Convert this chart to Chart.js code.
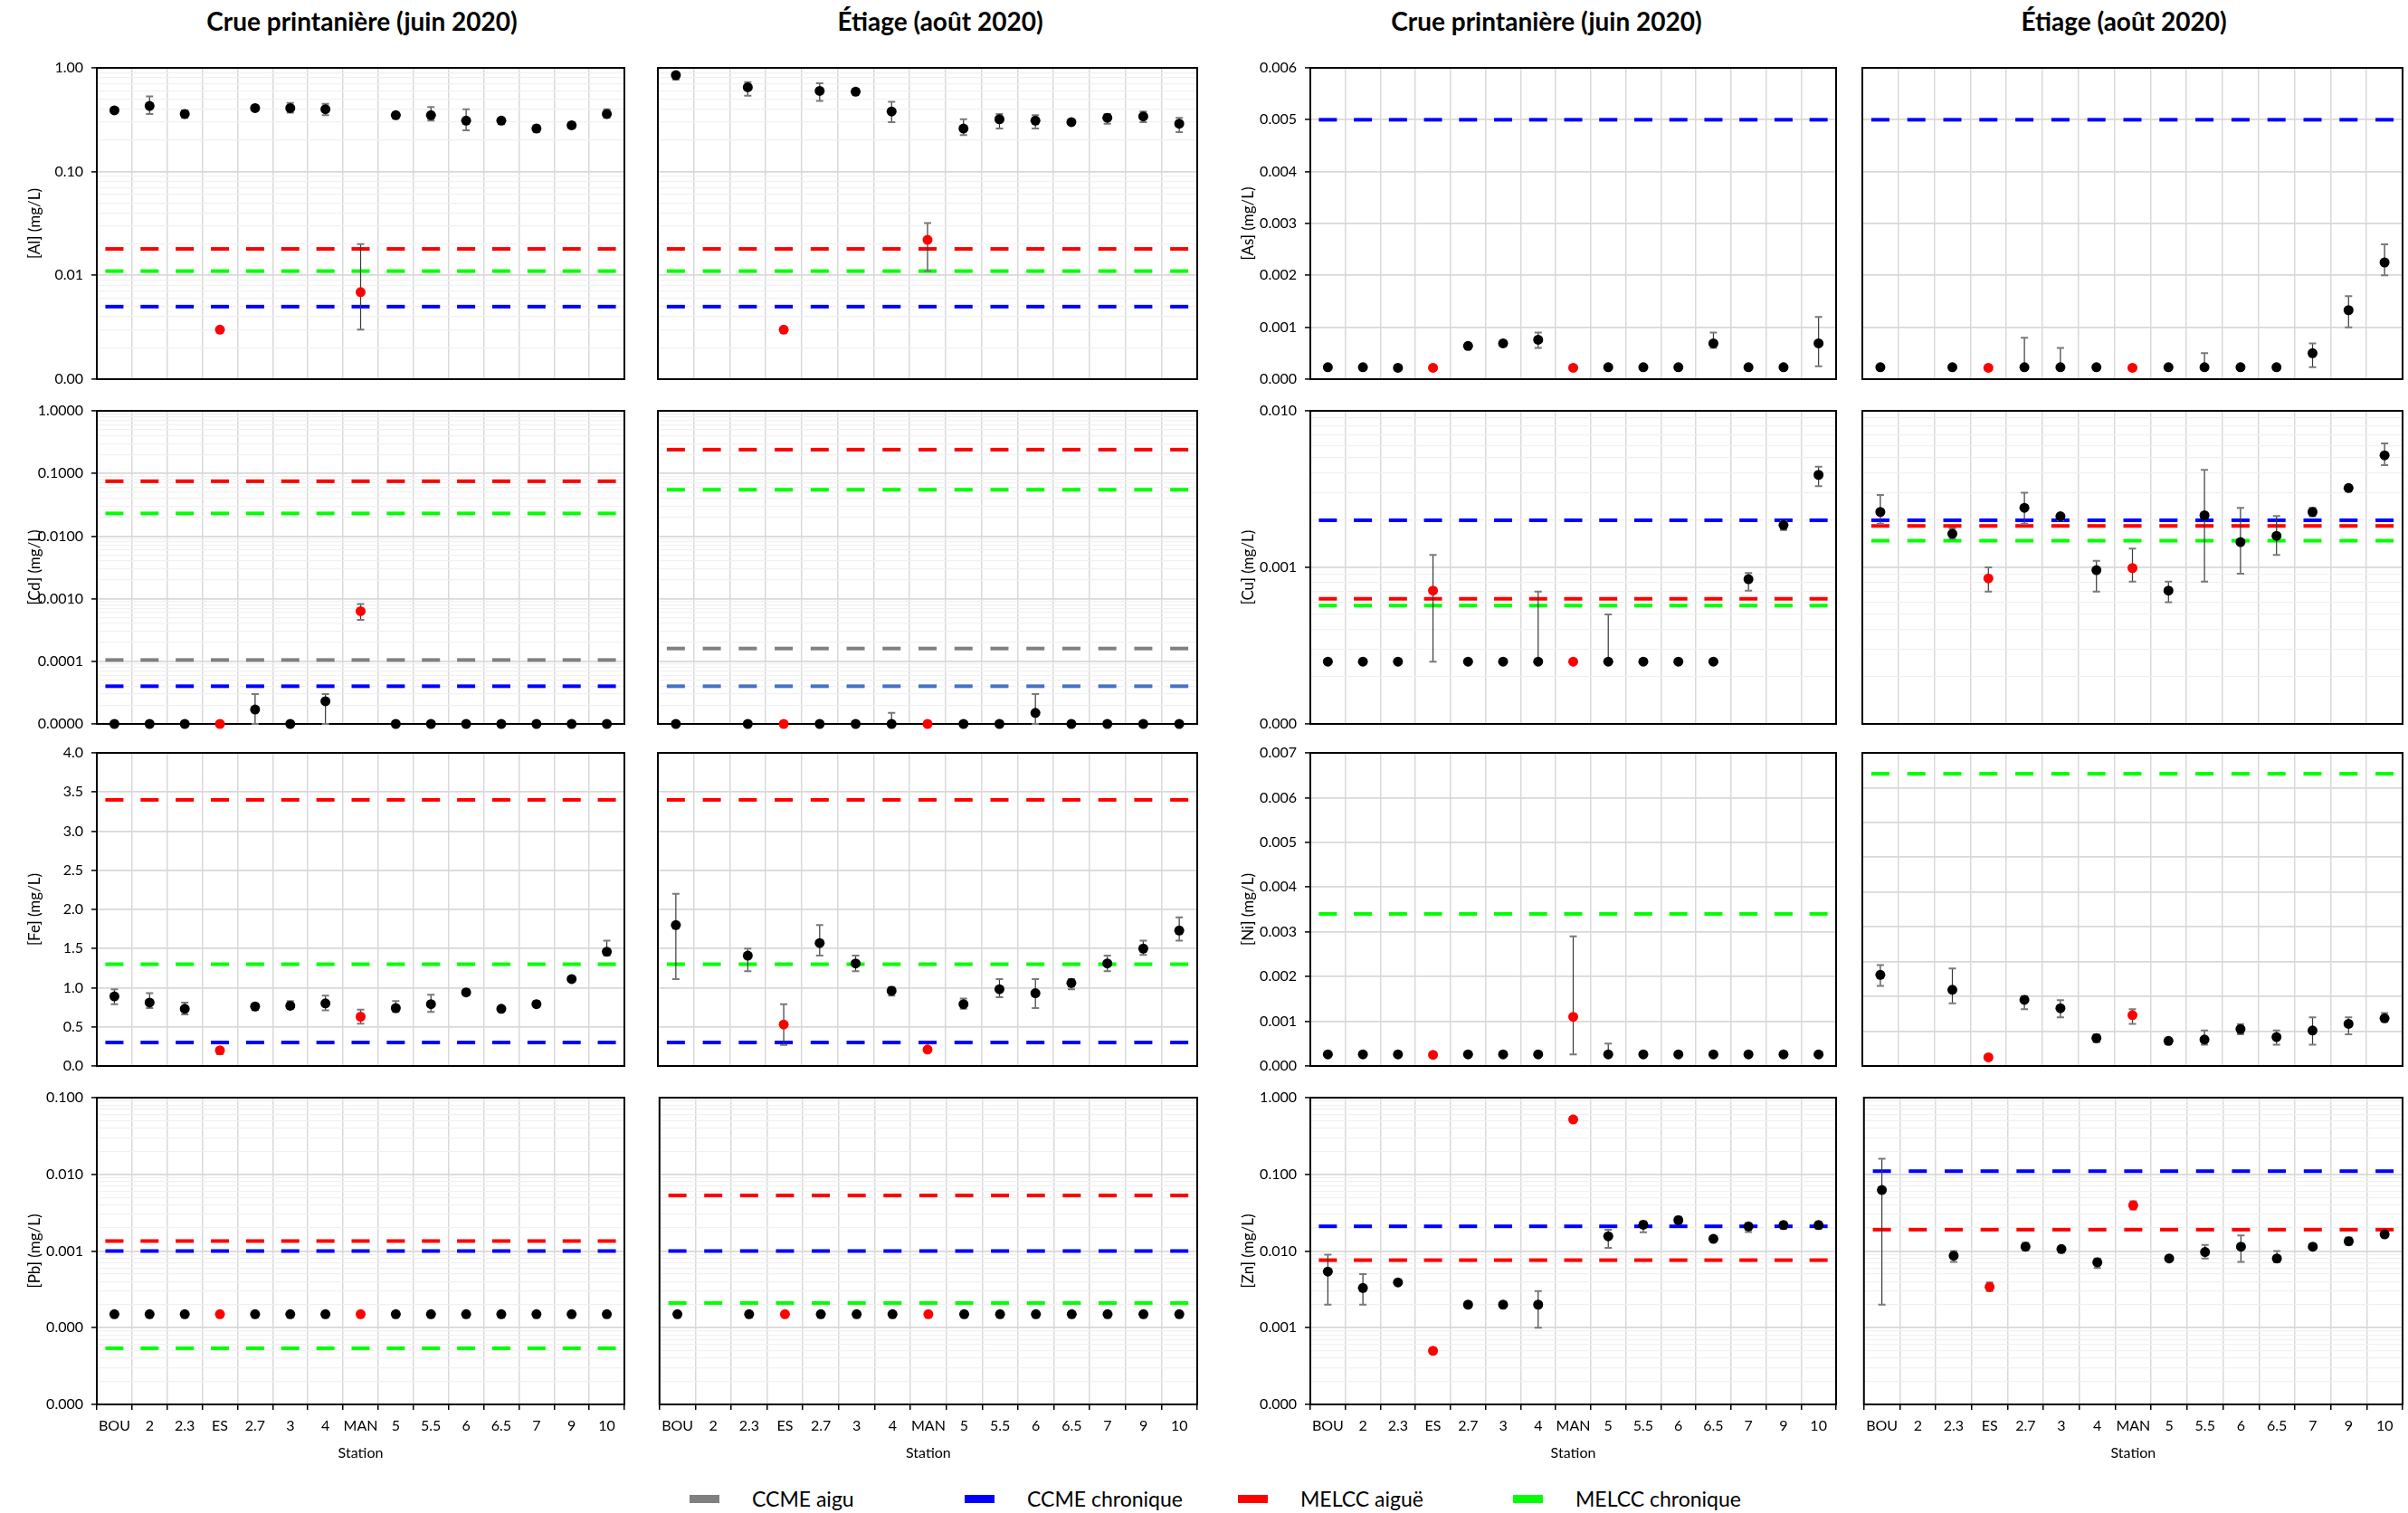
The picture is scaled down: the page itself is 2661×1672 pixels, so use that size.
<!DOCTYPE html>
<html lang="fr">
<head>
<meta charset="utf-8">
<title>Métaux – crue et étiage 2020</title>
<script src="https://cdn.jsdelivr.net/npm/chart.js@4.4.1/dist/chart.umd.min.js"></script>
<style>
html,body{margin:0;padding:0;background:#fff}
body{position:relative;width:2661px;height:1672px;overflow:hidden;font-family:Lato,'Liberation Sans',sans-serif;color:#000}
canvas{position:absolute}
.ttl{position:absolute;top:6px;font-weight:700;font-size:28px;line-height:34px;white-space:nowrap;transform:translateX(-50%)}
.sw{position:absolute;width:33px;height:9px;top:1652px}
.lt{position:absolute;top:1641px;font-size:23px;line-height:30px;white-space:nowrap}
</style>
</head>
<body>
<script>
// ---------------- DATA ----------------
const stations = ['BOU','2','2.3','ES','2.7','3','4','MAN','5','5.5','6','6.5','7','9','10'];
const tributaries = ['ES','MAN'];
const periodTitles = ['Crue printanière (juin 2020)', 'Étiage (août 2020)'];
const limitNames = ['CCME aigu', 'CCME chronique', 'MELCC aiguë', 'MELCC chronique'];
const stationAxisTitle = 'Station';

// Aluminium
const alCrue = [0.39, 0.43, 0.36, 0.003, 0.41, 0.41, 0.40, 0.0069, 0.35, 0.35, 0.31, 0.31, 0.26, 0.28, 0.36];
const alCrueBar = [[0.37,0.41],[0.36,0.53],[0.33,0.39],null,[0.39,0.43],[0.37,0.46],[0.35,0.45],[0.003,0.02],[0.33,0.37],[0.31,0.42],[0.25,0.40],[0.29,0.33],[0.24,0.28],[0.26,0.30],[0.33,0.40]];
const alEtiage = [0.85, null, 0.65, 0.003, 0.60, 0.59, 0.38, 0.022, 0.26, 0.32, 0.31, 0.30, 0.33, 0.34, 0.29];
const alEtiageBar = [[0.77,0.90],null,[0.54,0.73],null,[0.48,0.71],[0.56,0.63],[0.30,0.47],[0.011,0.032],[0.225,0.32],[0.26,0.36],[0.26,0.35],[0.29,0.31],[0.29,0.36],[0.30,0.38],[0.24,0.33]];
const alLimits = [null, 0.005, 0.018, 0.011];

// Arsenic
const asCrue = [0.00023,0.00023,0.00022,0.00022,0.00064,0.00069,0.00076,0.00022,0.00023,0.00023,0.00023,0.00069,0.00023,0.00023,0.00069];
const asCrueBar = [null,null,null,null,null,null,[0.0006,0.0009],null,null,null,null,[0.0006,0.0009],null,null,[0.00025,0.0012]];
const asEtiage = [0.00023,null,0.00023,0.00022,0.00023,0.00023,0.00023,0.00022,0.00023,0.00023,0.00023,0.00023,0.0005,0.00133,0.00225];
const asEtiageBar = [null,null,null,null,[0.00023,0.0008],[0.00023,0.0006],null,null,null,[0.00023,0.0005],null,null,[0.00023,0.00069],[0.001,0.0016],[0.002,0.0026]];
const asLimits = [null, 0.005, null, null];

// Cadmium
const cdCrue = [1e-5,1e-5,1e-5,1e-5,1.7e-5,1e-5,2.3e-5,0.00063,1e-5,1e-5,1e-5,1e-5,1e-5,1e-5,1e-5];
const cdCrueBar = [null,null,null,null,[1e-5,3e-5],null,[1e-5,3e-5],[0.00046,0.00082],null,null,null,null,null,null,null];
const cdEtiage = [1e-5,null,1e-5,1e-5,1e-5,1e-5,1e-5,1e-5,1e-5,1e-5,1.5e-5,1e-5,1e-5,1e-5,1e-5];
const cdEtiageBar = [null,null,null,null,null,null,[1e-5,1.5e-5],null,null,null,[1e-5,3e-5],null,null,null,null];
const cdCrueLimits = [0.000105, 0.00004, 0.075, 0.023];
const cdEtiageLimits = [0.00016, 0.00004, 0.24, 0.055];

// Cuivre
const cuCrue = [0.00025,0.00025,0.00025,0.00071,0.00025,0.00025,0.00025,0.00025,0.00025,0.00025,0.00025,0.00025,0.00084,0.00186,0.0039];
const cuCrueBar = [null,null,null,[0.00025,0.0012],null,null,[0.00025,0.0007],null,[0.00025,0.0005],null,null,null,[0.00071,0.00092],[0.00173,0.00197],[0.0033,0.0044]];
const cuEtiage = [0.00226,null,0.00164,0.00085,0.0024,0.00212,0.00096,0.00099,0.00071,0.00215,0.00145,0.00159,0.00226,0.00321,0.0052];
const cuEtiageBar = [[0.0019,0.0029],null,[0.00152,0.00177],[0.0007,0.001],[0.0019,0.003],[0.002,0.0022],[0.0007,0.0011],[0.00081,0.00132],[0.0006,0.00081],[0.00081,0.0042],[0.00091,0.0024],[0.0012,0.00213],[0.00212,0.0024],[0.0031,0.0033],[0.0045,0.0062]];
const cuCrueLimits = [null, 0.002, 0.00063, 0.00057];
const cuEtiageLimits = [null, 0.002, 0.00184, 0.00148];

// Fer
const feCrue = [0.89,0.81,0.73,0.20,0.76,0.77,0.80,0.63,0.74,0.79,0.94,0.73,0.79,1.11,1.46];
const feCrueBar = [[0.79,0.98],[0.74,0.93],[0.66,0.81],[0.15,0.23],[0.72,0.79],[0.73,0.83],[0.71,0.90],[0.54,0.72],[0.69,0.83],[0.69,0.91],[0.91,0.98],[0.70,0.75],[0.76,0.83],[1.08,1.14],[1.41,1.60]];
const feEtiage = [1.80,null,1.41,0.53,1.57,1.31,0.96,0.21,0.79,0.98,0.93,1.06,1.31,1.50,1.73];
const feEtiageBar = [[1.11,2.2],null,[1.21,1.5],[0.27,0.79],[1.41,1.8],[1.21,1.41],[0.9,1.01],[0.18,0.24],[0.73,0.86],[0.88,1.11],[0.74,1.11],[0.98,1.11],[1.21,1.41],[1.42,1.6],[1.6,1.9]];
const feLimits = [null, 0.3, 3.4, 1.3];

// Nickel
const niCrue = [0.00026,0.00026,0.00026,0.00025,0.00026,0.00026,0.00026,0.0011,0.00026,0.00026,0.00026,0.00026,0.00026,0.00026,0.00026];
const niCrueBar = [null,null,null,null,null,null,null,[0.00026,0.0029],[0.00026,0.0005],null,null,null,null,null,null];
const niEtiage = [0.00262,null,0.00219,0.00025,0.0019,0.00166,0.0008,0.00146,0.00072,0.00076,0.00106,0.00083,0.00102,0.00121,0.00137];
const niEtiageBar = [[0.0023,0.0029],null,[0.0018,0.0028],null,[0.00163,0.00201],[0.0014,0.00189],[0.00069,0.00091],[0.00121,0.00163],[0.00068,0.00076],[0.00061,0.00102],[0.00091,0.0012],[0.00061,0.00102],[0.00061,0.0014],[0.00091,0.0014],[0.0013,0.00152]];
const niCrueLimits = [null, null, null, 0.0034];
const niEtiageLimits = [null, null, null, 0.0084];

// Plomb
const pbCrue = [0.00015,0.00015,0.00015,0.00015,0.00015,0.00015,0.00015,0.00015,0.00015,0.00015,0.00015,0.00015,0.00015,0.00015,0.00015];
const pbEtiage = [0.00015,null,0.00015,0.00015,0.00015,0.00015,0.00015,0.00015,0.00015,0.00015,0.00015,0.00015,0.00015,0.00015,0.00015];
const pbCrueLimits = [null, 0.001, 0.00135, 0.000054];
const pbEtiageLimits = [null, 0.001, 0.0053, 0.00021];

// Zinc
const znCrue = [0.0054,0.0033,0.0039,0.0005,0.002,0.002,0.002,0.52,0.0156,0.022,0.0252,0.0144,0.0209,0.0218,0.0218];
const znCrueBar = [[0.002,0.009],[0.002,0.005],[0.0037,0.0042],null,null,null,[0.001,0.003],null,[0.011,0.019],[0.0176,0.0243],[0.0229,0.0281],[0.0136,0.0152],[0.0177,0.0231],[0.0194,0.024],[0.0194,0.024]];
const znEtiage = [0.0625,null,0.0087,0.0034,0.0114,0.0106,0.0071,0.0394,0.008,0.0097,0.0114,0.008,0.0114,0.0134,0.0165];
const znEtiageBar = [[0.002,0.16],null,[0.0072,0.01],[0.003,0.0039],[0.0102,0.0129],[0.0098,0.0113],[0.006,0.008],[0.035,0.0446],[0.0075,0.0085],[0.008,0.012],[0.0072,0.016],[0.0071,0.01],[0.0105,0.0123],[0.012,0.015],[0.0155,0.0175]];
const znCrueLimits = [null, 0.021, 0.0076, null];
const znEtiageLimits = [null, 0.11, 0.019, null];

// Axes (range + label decimals)
const axAl = {type:'logarithmic', min:0.001, max:1, dec:2};
const axAs = {type:'linear', min:0, max:0.006, step:0.001, dec:3};
const axCd = {type:'logarithmic', min:0.00001, max:1, dec:4};
const axCu = {type:'logarithmic', min:0.0001, max:0.01, dec:3};
const axFe = {type:'linear', min:0, max:4, step:0.5, dec:1};
const axNiCrue = {type:'linear', min:0, max:0.007, step:0.001, dec:3};
const axNiEtiage = {type:'linear', min:0, max:0.009, step:0.001, dec:3};
const axPb = {type:'logarithmic', min:0.00001, max:0.1, dec:3};
const axZn = {type:'logarithmic', min:0.0001, max:1, dec:3};

// ---------------- STYLE / LAYOUT ----------------
const COLS = [[107,690],[727,1323],[1448,2029],[2058,2655]];
const ROWS = [[75,419],[454,800],[832,1178],[1213,1552]];
const titleCenters = [400, 1039, 1709, 2347];
const legendX = [762, 1066, 1368, 1672];
const limitColors = ['#808080', '#0000ff', '#ff0000', '#00ff00'];

const panels = [
  {row:0,col:0,label:'[Al] (mg/L)',ax:axAl,vals:alCrue,bars:alCrueBar,lim:alLimits},
  {row:0,col:1,label:'[Al] (mg/L)',ax:axAl,vals:alEtiage,bars:alEtiageBar,lim:alLimits},
  {row:0,col:2,label:'[As] (mg/L)',ax:axAs,vals:asCrue,bars:asCrueBar,lim:asLimits},
  {row:0,col:3,label:'[As] (mg/L)',ax:axAs,vals:asEtiage,bars:asEtiageBar,lim:asLimits},
  {row:1,col:0,label:'[Cd] (mg/L)',ax:axCd,vals:cdCrue,bars:cdCrueBar,lim:cdCrueLimits},
  {row:1,col:1,label:'[Cd] (mg/L)',ax:axCd,vals:cdEtiage,bars:cdEtiageBar,lim:cdEtiageLimits,chronColor:'#4472c4'},
  {row:1,col:2,label:'[Cu] (mg/L)',ax:axCu,vals:cuCrue,bars:cuCrueBar,lim:cuCrueLimits},
  {row:1,col:3,label:'[Cu] (mg/L)',ax:axCu,vals:cuEtiage,bars:cuEtiageBar,lim:cuEtiageLimits},
  {row:2,col:0,label:'[Fe] (mg/L)',ax:axFe,vals:feCrue,bars:feCrueBar,lim:feLimits},
  {row:2,col:1,label:'[Fe] (mg/L)',ax:axFe,vals:feEtiage,bars:feEtiageBar,lim:feLimits},
  {row:2,col:2,label:'[Ni] (mg/L)',ax:axNiCrue,vals:niCrue,bars:niCrueBar,lim:niCrueLimits},
  {row:2,col:3,label:'[Ni] (mg/L)',ax:axNiEtiage,vals:niEtiage,bars:niEtiageBar,lim:niEtiageLimits},
  {row:3,col:0,label:'[Pb] (mg/L)',ax:axPb,vals:pbCrue,bars:null,lim:pbCrueLimits},
  {row:3,col:1,label:'[Pb] (mg/L)',ax:axPb,vals:pbEtiage,bars:null,lim:pbEtiageLimits},
  {row:3,col:2,label:'[Zn] (mg/L)',ax:axZn,vals:znCrue,bars:znCrueBar,lim:znCrueLimits},
  {row:3,col:3,label:'[Zn] (mg/L)',ax:axZn,vals:znEtiage,bars:znEtiageBar,lim:znEtiageLimits}
];

// ---------------- HTML texts ----------------
titleCenters.forEach((cx, i) => {
  const d = document.createElement('div');
  d.className = 'ttl'; d.style.left = cx + 'px';
  d.textContent = periodTitles[i % 2];
  document.body.appendChild(d);
});
limitNames.forEach((n, i) => {
  const s = document.createElement('div');
  s.className = 'sw'; s.style.left = legendX[i] + 'px'; s.style.background = limitColors[i];
  document.body.appendChild(s);
  const t = document.createElement('div');
  t.className = 'lt'; t.style.left = (legendX[i] + 69) + 'px'; t.textContent = n;
  document.body.appendChild(t);
});

// ---------------- helpers / plugins ----------------
function logGrid(min, max) {
  const out = [];
  const e0 = Math.round(Math.log10(min)), e1 = Math.round(Math.log10(max));
  for (let e = e0; e < e1; e++)
    for (let m = 1; m <= 9; m++) out.push(parseFloat((m * Math.pow(10, e)).toPrecision(10)));
  out.push(max);
  return out;
}
const isDecade = v => Math.abs(Math.log10(v) - Math.round(Math.log10(v))) < 1e-6;

const framePlugin = {
  id: 'frame',
  beforeDatasetsDraw(chart) {
    const {ctx, chartArea: a} = chart;
    ctx.save();
    ctx.strokeStyle = '#000'; ctx.lineWidth = 2;
    ctx.strokeRect(a.left, a.top, a.right - a.left, a.bottom - a.top);
    ctx.restore();
  }
};

const errorBarPlugin = {
  id: 'errorBars',
  beforeDatasetDraw(chart, args) {
    const ds = chart.data.datasets[args.index];
    if (!ds.errorBars) return;
    const ys = chart.scales.y, ctx = chart.ctx;
    ctx.save();
    ds.errorBars.forEach((b, i) => {
      const el = args.meta.data[i];
      if (!b || !el || ds.data[i] == null) return;
      const x = el.x, y1 = ys.getPixelForValue(b[0]), y2 = ys.getPixelForValue(b[1]);
      ctx.strokeStyle = '#3a3a3a'; ctx.lineWidth = 1.2;
      ctx.beginPath(); ctx.moveTo(x, y1); ctx.lineTo(x, y2); ctx.stroke();
      ctx.strokeStyle = '#7a7a7a'; ctx.lineWidth = 2;
      ctx.beginPath();
      ctx.moveTo(x - 4, y1); ctx.lineTo(x + 4, y1);
      ctx.moveTo(x - 4, y2); ctx.lineTo(x + 4, y2);
      ctx.stroke();
    });
    ctx.restore();
  }
};

function yScale(ax, crue, label, AXW) {
  const log = ax.type === 'logarithmic';
  const major = c => !log || (c.tick && isDecade(c.tick.value));
  const s = {
    type: ax.type, min: ax.min, max: ax.max,
    afterFit: sc => { sc.width = AXW; },
    border: {display: false},
    grid: {
      color: c => major(c) ? '#d9d9d9' : '#f1f1f1',
      lineWidth: c => major(c) ? 1.8 : 1.3,
      drawTicks: crue, tickLength: 6, tickWidth: 1.5,
      tickColor: c => major(c) ? '#000' : 'rgba(0,0,0,0)'
    },
    ticks: {
      display: crue, autoSkip: false, padding: 9, color: '#000',
      font: {family: 'Lato', size: 16},
      callback: v => (!log || isDecade(v)) ? Number(v).toFixed(ax.dec) : ''
    },
    title: {display: crue, text: label, color: '#000', font: {family: 'Lato', size: 17}, padding: 0}
  };
  if (log) s.afterBuildTicks = sc => { sc.ticks = logGrid(ax.min, ax.max).map(v => ({value: v})); };
  else s.ticks.stepSize = ax.step;
  return s;
}

function makePanel(p) {
  const [L, R] = COLS[p.col], [T, B] = ROWS[p.row];
  const crue = p.col % 2 === 0, bottom = p.row === 3;
  const AXW = crue ? 79 : 4, PT = 22, PR = 4, PB = bottom ? 67 : 22;
  const cv = document.createElement('canvas');
  cv.width = R - L + AXW + PR; cv.height = B - T + PT + PB;
  cv.style.left = (L - AXW) + 'px'; cv.style.top = (T - PT) + 'px';
  document.body.appendChild(cv);

  const ptColors = stations.map(s => tributaries.includes(s) ? '#ff0000' : '#000000');
  const datasets = [{
    label: 'Mesures', data: p.vals, errorBars: p.bars,
    showLine: false, pointRadius: 5.5, pointHoverRadius: 5.5, pointBorderWidth: 0,
    pointBackgroundColor: ptColors, pointBorderColor: ptColors, clip: false, order: 0
  }];
  p.lim.forEach((v, k) => {
    if (v == null) return;
    const col = (k === 1 && p.chronColor) ? p.chronColor : limitColors[k];
    datasets.push({
      label: limitNames[k], data: stations.map(() => v),
      showLine: false, pointStyle: 'line', pointRadius: 10, pointHoverRadius: 10,
      pointBorderWidth: 4, pointBorderColor: col, pointBackgroundColor: col, clip: false, order: 1
    });
  });

  new Chart(cv, {
    type: 'line',
    data: {labels: stations, datasets},
    options: {
      responsive: false, animation: false, events: [],
      layout: {autoPadding: false, padding: {left: 0, top: PT, right: PR, bottom: 0}},
      plugins: {legend: {display: false}, tooltip: {enabled: false}},
      scales: {
        x: {
          type: 'category', offset: true,
          afterFit: sc => { sc.height = PB; },
          border: {display: false},
          grid: {offset: true, color: '#d9d9d9', lineWidth: 1.5, drawTicks: bottom, tickLength: 6, tickColor: '#000', tickWidth: 1.5},
          ticks: {display: bottom, autoSkip: false, maxRotation: 0, minRotation: 0, padding: 8, color: '#000', font: {family: 'Lato', size: 16}},
          title: {display: bottom, text: stationAxisTitle, color: '#000', font: {family: 'Lato', size: 16}, padding: {top: 4, bottom: 4}}
        },
        y: yScale(p.ax, crue, p.label, AXW)
      }
    },
    plugins: [framePlugin, errorBarPlugin]
  });
}

panels.forEach(makePanel);
</script>
</body>
</html>
